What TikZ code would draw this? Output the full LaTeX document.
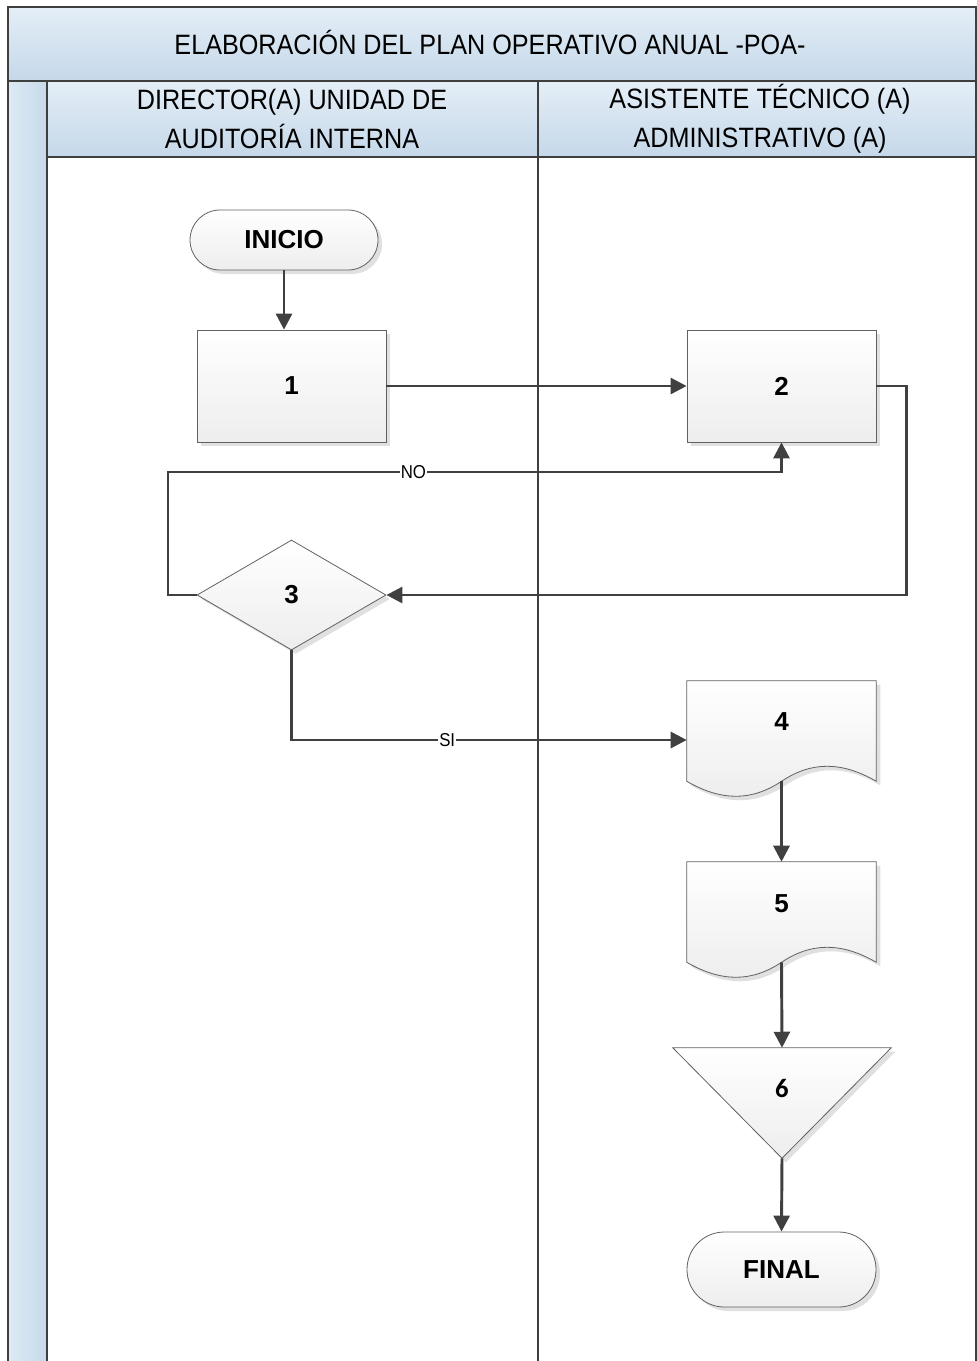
\documentclass[tikz,border=0pt]{standalone}
\usepackage{fontspec}
\setmainfont{Liberation Sans}
\newfontfamily\hdrfont[FakeStretch=0.9]{Liberation Sans}
\newfontfamily\calfont{Carlito}
\usetikzlibrary{arrows.meta,shadows,calc,shapes.geometric}
\definecolor{cline}{HTML}{404040}
\definecolor{frame}{HTML}{3F3F3F}
\definecolor{hdtop}{HTML}{E4EEF7}
\definecolor{hdbot}{HTML}{C5D8E9}
\definecolor{stripl}{HTML}{DEEAF4}
\definecolor{stripr}{HTML}{C6D9EA}
\begin{document}
\begin{tikzpicture}[x=0.75pt,y=-0.75pt,
  shp/.style={draw=black!62, line width=0.6pt, top color=white, bottom color=black!7,
    drop shadow={shadow xshift=3pt,shadow yshift=-3pt,fill=black!12,opacity=1}},
  numtxt/.style={font=\bfseries\fontsize{19.5}{22}\selectfont, inner sep=0pt},
  procbox/.style={shp, rectangle, minimum width=141.75pt, minimum height=84pt, numtxt},
  termbox/.style={shp, rectangle, numtxt},
  decbox/.style={shp, diamond, minimum width=141.75pt, minimum height=82.5pt, inner sep=0pt, numtxt},
  ghost/.style={rectangle, inner sep=0pt, draw=none},
  conn/.style={draw=cline, line width=2.2pt, -{Triangle[length=12pt,width=12pt]}},
  lbl/.style={font=\hdrfont\fontsize{14}{16}\selectfont, fill=white, inner sep=0.6pt},
  hdr/.style={font=\hdrfont\fontsize{21}{29.25}\selectfont, align=center, inner sep=0pt},
  frm/.style={draw=frame, line width=2.2pt}
]
\useasboundingbox (0,0) rectangle (977,1361);
% header bands
\fill[top color=hdtop, bottom color=hdbot] (8,7) rectangle (976,81);
\fill[top color=hdtop, bottom color=hdbot] (47,81) rectangle (976,157);
\fill[left color=stripl, right color=stripr] (8,81) rectangle (47,1361);
% frame lines
\draw[frm] (8,1361) -- (8,7) -- (976,7) -- (976,1361);
\draw[frm] (8,81) -- (976,81);
\draw[draw=frame, line width=1.6pt] (47,157) -- (976,157);
\draw[frm] (47,81) -- (47,1361);
\draw[draw=frame, line width=1.5pt] (538,81) -- (538,1361);
% header texts
\node[hdr, anchor=base] (title) at (490,54) {ELABORACIÓN DEL PLAN OPERATIVO ANUAL -POA-};
\node[hdr] (lane1) at (292,119) {DIRECTOR(A) UNIDAD DE\\AUDITORÍA INTERNA};
\node[hdr] (lane2) at (760,119) {ASISTENTE TÉCNICO (A)\\ADMINISTRATIVO (A)};
% shapes
\node[termbox, minimum width=141pt, minimum height=45pt, rounded corners=22.5pt] (inicio) at (284,240) {INICIO};
\node[procbox] (b1) at (291.5,386) {1};
\node[procbox] (b2) at (781.5,386) {2};
\node[decbox] (d3) at (291.5,595) {3};
% documents
\node[ghost, minimum width=141.75pt, minimum height=75pt] (d4) at (781.5,731) {};
\path[shp] (d4.north west) -- (d4.north east) -- (d4.south east)
  .. controls ($(d4.south)+(60,-20)$) and ($(d4.south)+(30,-20)$) .. (d4.south)
  .. controls ($(d4.south)+(-30,20)$) and ($(d4.south)+(-60,20)$) .. (d4.south west) -- cycle;
\node[numtxt] (d4t) at (781.5,722) {4};
\node[ghost, minimum width=141.75pt, minimum height=75pt] (d5) at (781.5,912) {};
\path[shp] (d5.north west) -- (d5.north east) -- (d5.south east)
  .. controls ($(d5.south)+(60,-20)$) and ($(d5.south)+(30,-20)$) .. (d5.south)
  .. controls ($(d5.south)+(-30,20)$) and ($(d5.south)+(-60,20)$) .. (d5.south west) -- cycle;
\node[numtxt] (d5t) at (781.5,904) {5};
% merge triangle
\node[ghost, minimum width=163.5pt, minimum height=82.5pt] (t6) at (782,1103) {};
\path[shp] (t6.north west) -- (t6.north east) -- (t6.south) -- cycle;
\node[numtxt, font=\calfont\bfseries\fontsize{20}{22}\selectfont] (t6t) at (782,1088) {6};
\node[termbox, minimum width=141.75pt, minimum height=56.25pt, rounded corners=28pt] (final) at (781.5,1269.5) {FINAL};
% connectors
\coordinate (nocorner) at (168,472);
\draw[conn] (inicio.south) -- (inicio.south |- b1.north);
\draw[conn] (b1.east) -- (b2.west);
\draw[conn] (b2.east) -- ++(30,0) |- (d3.east);
\draw[conn] (d3.west) -| (nocorner) -- node[lbl, pos=0.4] {NO} (nocorner -| b2.south) -- (b2.south);
\coordinate (siend) at ($(d4.west)+(0,9)$);
\draw[conn] (d3.south) |- node[lbl, pos=0.697] {SI} (siend);
\draw[conn] (d4.south) -- (d5.north);
\draw[conn] (d5.south) -- (t6.north);
\draw[conn] (t6.south) -- (final.north);
\end{tikzpicture}
\end{document}
